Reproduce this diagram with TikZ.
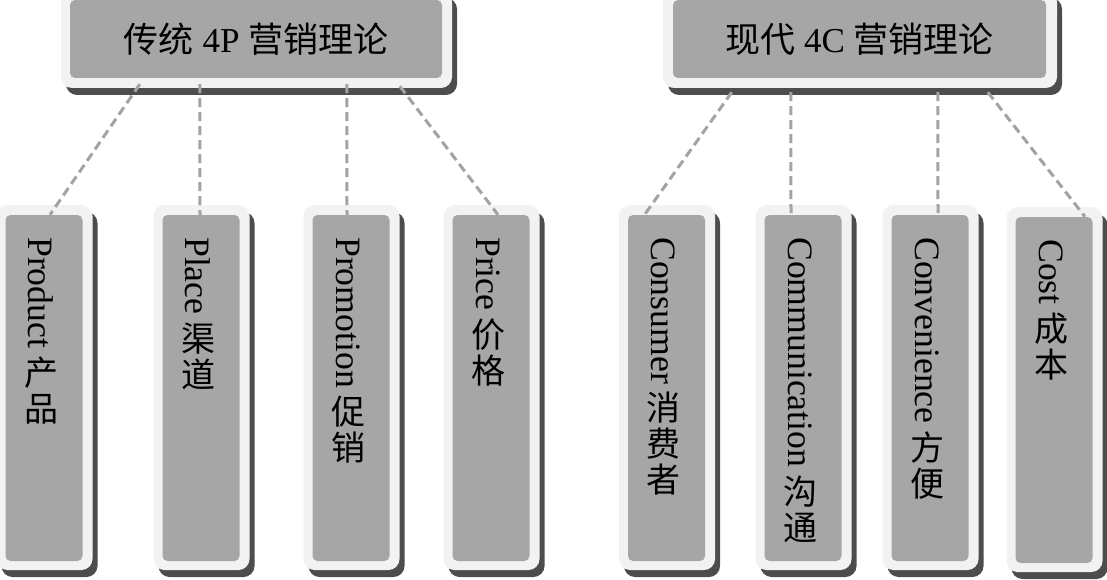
\documentclass[tikz,border=0pt]{standalone}
\usepackage{fontspec}
\setmainfont{Liberation Serif}
\newfontfamily\cjk{Noto Sans CJK SC}
\usetikzlibrary{shadows,calc}
\definecolor{boxgray}{HTML}{A6A6A6}
\definecolor{framegray}{HTML}{F2F2F2}
\definecolor{shadowgray}{HTML}{4D4D4D}
\definecolor{linegray}{HTML}{A3A3A3}
\tikzset{
  frame/.style={fill=framegray, rounded corners=11pt, inner sep=0pt,
    drop shadow={shadow xshift=5pt, shadow yshift=-7pt, fill=shadowgray, opacity=1}},
  innerbox/.style={fill=boxgray, rounded corners=5pt, inner sep=0pt},
  lat/.style={font=\fontsize{35.7}{40}\selectfont, inner sep=0pt},
  cjkcol/.style={font=\cjk\fontsize{34}{36}\selectfont, align=center, inner sep=0pt},
  title/.style={font=\fontsize{35}{40}\selectfont},
  conn/.style={draw=linegray, line width=3pt, dash pattern=on 9pt off 5pt}
}
\newcommand\bbox[5]{%
  \node[frame, minimum width=96pt, minimum height=365pt] (#1o) at (#2, 387.5+#3) {};
  \node[innerbox, minimum width=77pt, minimum height=346pt] (#1) at (#2-0.5, 388+#3) {};
  \node[lat, rotate=-90, anchor=west] (#1t) at (#2-3.5, 237+#3) {#4};
  \node[cjkcol, anchor=north] (#1c) at ([yshift=-8pt]#1t.east) {#5};
}
\begin{document}
\begin{tikzpicture}[x=1pt,y=-1pt]
\useasboundingbox (0,0) rectangle (1107,580);
% top boxes
\node[frame, minimum width=391pt, minimum height=97pt] (t1o) at (256.5,39.5) {};
\node[innerbox, title, minimum width=372pt, minimum height=78pt] (t1) at (256,39) {{\cjk 传统} 4P {\cjk 营销理论}};
\node[frame, minimum width=394pt, minimum height=97pt] (t2o) at (860,39.5) {};
\node[innerbox, title, minimum width=373pt, minimum height=78pt] (t2) at (859.5,39) {{\cjk 现代} 4C {\cjk 营销理论}};
% bottom boxes
\bbox{b1}{44.5}{0}{Product}{产\\品}
\bbox{b2}{201.5}{0}{Place}{渠\\道}
\bbox{b3}{351.5}{0}{Promotion}{促\\销}
\bbox{b4}{491.5}{0}{Price}{价\\格}
\bbox{b5}{667}{0}{Consumer}{消\\费\\者}
\bbox{b6}{803.5}{0}{Communication}{沟\\通}
\bbox{b7}{930.5}{0}{Convenience}{方\\便}
\bbox{b8}{1054.5}{2}{Cost}{成\\本}
% connectors
\draw[conn] ([xshift=79pt,yshift=4pt]t1o.south west) -- ([xshift=6pt]b1.north);
\draw[conn] ([xshift=139pt,yshift=4pt]t1o.south west) -- ([xshift=-1pt]b2.north);
\draw[conn] ([xshift=286pt,yshift=4pt]t1o.south west) -- ([xshift=-4pt]b3.north);
\draw[conn] ([xshift=339pt,yshift=2pt]t1o.south west) -- ([xshift=7pt]b4.north);
\draw[conn] ([xshift=69pt,yshift=-4pt]t2o.south west) -- ([xshift=-22pt]b5.north);
\draw[conn] ([xshift=128pt,yshift=-4pt]t2o.south west) -- ([xshift=-12pt]b6.north);
\draw[conn] ([xshift=275pt,yshift=-4pt]t2o.south west) -- ([xshift=8pt]b7.north);
\draw[conn] ([xshift=325pt,yshift=-4pt]t2o.south west) -- ([xshift=31pt]b8.north);
\end{tikzpicture}
\end{document}
